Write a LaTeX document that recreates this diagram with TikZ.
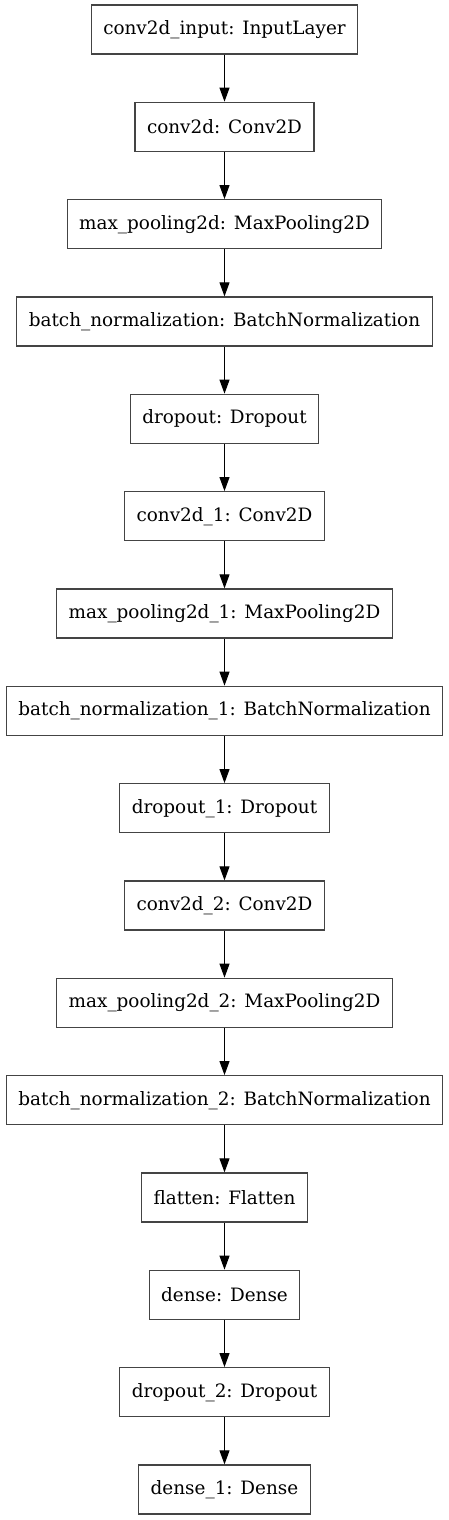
\documentclass[tikz,border=0pt]{standalone}
\usepackage{fontspec}
\setmainfont{DejaVu Serif}
\usetikzlibrary{arrows.meta,positioning}
\definecolor{BoxGray}{HTML}{444444}

\begin{document}
\begin{tikzpicture}[x=1pt, y=-1pt,
  layer/.style={draw=BoxGray, line width=1.3pt, fill=white, minimum height=49pt,
    inner xsep=12pt, font=\fontsize{18.4}{20}\selectfont},
  flow/.style={-{Triangle[length=14pt, width=10pt]}, line width=1pt}]
% Page frame
\useasboundingbox (0, 0) rectangle (449, 1520);

% Layers, top to bottom
\node[layer] (inp)   at (224.5, 29.5)   {conv2d\_input: InputLayer};
\node[layer] (conv)  at (224.5, 126.8)  {conv2d: Conv2D};
\node[layer] (pool)  at (224.5, 224.2)  {max\_pooling2d: MaxPooling2D};
\node[layer] (bn)    at (224.5, 321.5)  {batch\_normalization: BatchNormalization};
\node[layer] (drop)  at (224.5, 418.8)  {dropout: Dropout};
\node[layer] (convA) at (224.5, 516.2)  {conv2d\_1: Conv2D};
\node[layer] (poolA) at (224.5, 613.5)  {max\_pooling2d\_1: MaxPooling2D};
\node[layer] (bnA)   at (224.5, 710.8)  {batch\_normalization\_1: BatchNormalization};
\node[layer] (dropA) at (224.5, 808.2)  {dropout\_1: Dropout};
\node[layer] (convB) at (224.5, 905.5)  {conv2d\_2: Conv2D};
\node[layer] (poolB) at (224.5, 1002.8) {max\_pooling2d\_2: MaxPooling2D};
\node[layer] (bnB)   at (224.5, 1100.2) {batch\_normalization\_2: BatchNormalization};
\node[layer] (flat)  at (224.5, 1197.5) {flatten: Flatten};
\node[layer] (dense) at (224.5, 1294.8) {dense: Dense};
\node[layer] (dropB) at (224.5, 1392.2) {dropout\_2: Dropout};
\node[layer] (out)   at (224.5, 1489.5) {dense\_1: Dense};

% Connections
\draw[flow] (inp) -- (conv);
\draw[flow] (conv) -- (pool);
\draw[flow] (pool) -- (bn);
\draw[flow] (bn) -- (drop);
\draw[flow] (drop) -- (convA);
\draw[flow] (convA) -- (poolA);
\draw[flow] (poolA) -- (bnA);
\draw[flow] (bnA) -- (dropA);
\draw[flow] (dropA) -- (convB);
\draw[flow] (convB) -- (poolB);
\draw[flow] (poolB) -- (bnB);
\draw[flow] (bnB) -- (flat);
\draw[flow] (flat) -- (dense);
\draw[flow] (dense) -- (dropB);
\draw[flow] (dropB) -- (out);
\end{tikzpicture}
\end{document}
